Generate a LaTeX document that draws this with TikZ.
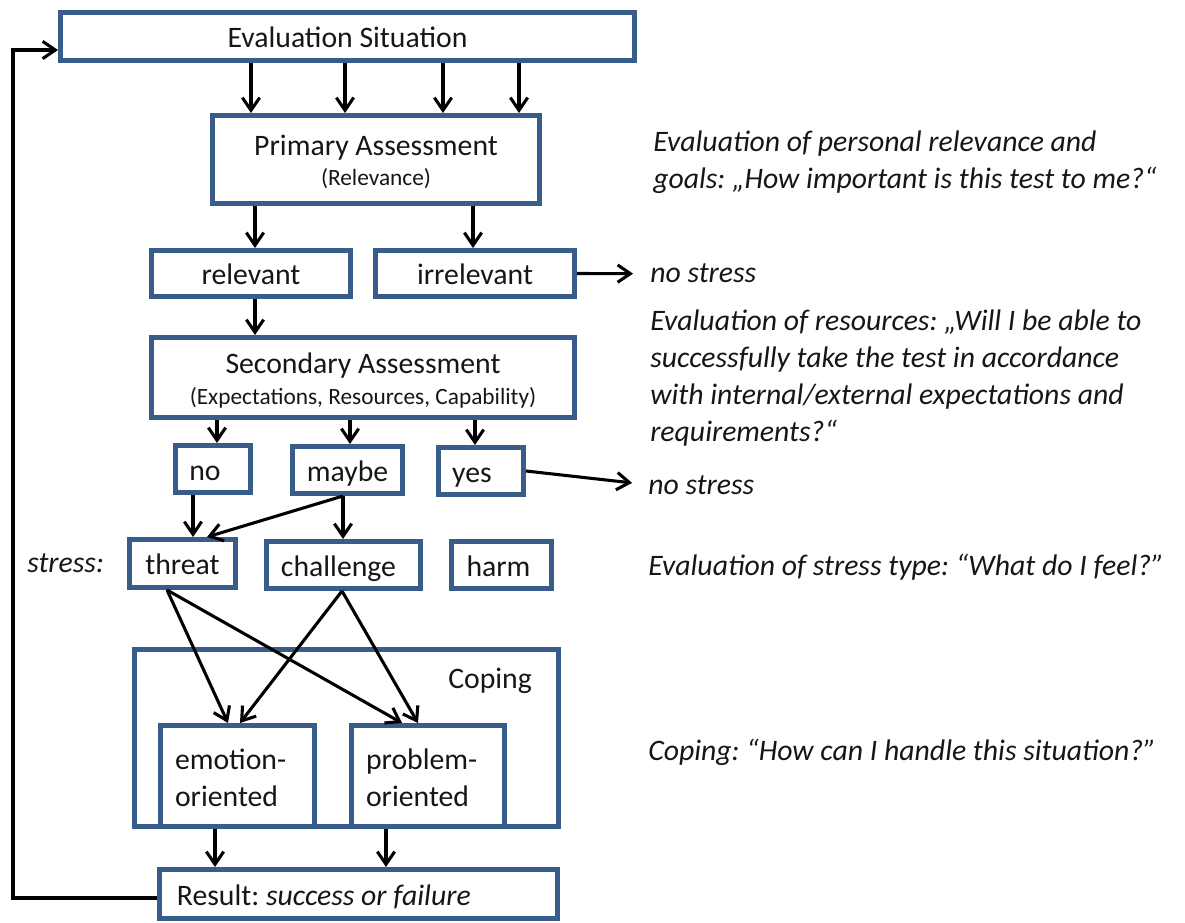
\documentclass[tikz,border=0pt]{standalone}
\usepackage{fontspec}
\setmainfont{Carlito}
\usetikzlibrary{arrows.meta}
\definecolor{boxblue}{RGB}{56,93,138}
\definecolor{ink}{RGB}{22,22,22}
\newcommand\fsmain{\fontsize{22.3pt}{27.75pt}\selectfont}
\newcommand\fssub{\fontsize{17.5pt}{21pt}\selectfont}
% trailing pad that pushes a label left inside its box
\newcommand\padr[1]{\hspace{#1}\null}
\frenchspacing

\begin{document}
\begin{tikzpicture}[x=0.75pt,y=-0.75pt,
  box/.style 2 args={draw=boxblue, line width=3.6pt, inner sep=0pt,
    minimum width=#1*0.75pt-3.6pt, minimum height=#2*0.75pt-3.6pt,
    text=ink, font=\fsmain},
  oneline/.style={text height=16.5pt, text depth=0pt},
  arr/.style={draw=black, line width=2.3pt,
    -{Straight Barb[length=9.5pt,width=13pt]}},
  note/.style={font=\fsmain\itshape, text=ink, inner sep=0pt, align=left},
]
\useasboundingbox (0,0) rectangle (1185,923);

% appraisal chain
\node[box={579}{53}, oneline] (eval) at (347.5,36.5) {Evaluation Situation};
\node[box={332}{93}, align=center, font=\fontsize{22.3pt}{22.5pt}\selectfont,
      text height=39.75pt, text depth=0pt] (prim) at (376,159.5)
      {Primary Assessment\\{\fssub (Relevance)}};
\node[box={204}{51}, oneline] (rel) at (251,273.5) {relevant};
\node[box={204}{51}, oneline] (irr) at (475,273.5) {irrelevant};
\node[box={428}{85}, align=center, font=\fontsize{22.3pt}{24pt}\selectfont,
      text height=41.25pt, text depth=0pt] (sec) at (363,377.5)
      {Secondary Assessment\\{\fssub (Expectations, Resources, Capability)}};
\node[box={80}{52}, oneline] (no) at (213,469) {no\padr{12pt}};
\node[box={115}{52}, oneline] (maybe) at (347.5,470) {maybe};
\node[box={90}{52}, oneline] (yes) at (481,471) {yes\padr{13.5pt}};

% stress types
\node[note, anchor=base west] (stresslbl) at (27,572) {stress:};
\node[box={111}{53}, oneline] (threat) at (182.5,563.5) {threat};
\node[box={159}{52}, oneline] (challenge) at (343.5,565) {challenge\padr{7.5pt}};
\node[box={105}{52}, oneline] (harm) at (501.5,565) {harm\padr{4.5pt}};

% coping
\node[box={429}{182}] (coping) at (346.5,738) {};
\node[anchor=base west, font=\fsmain, text=ink, inner sep=0pt] (copinglbl)
      at (448,688) {Coping};
\node[box={159}{106}, align=left, text width=93.75pt,
      text height=15pt, text depth=25.5pt] (emotion) at (237.5,776)
      {emotion-\\oriented};
\node[box={158}{106}, align=left, text width=93pt,
      text height=15pt, text depth=25.5pt] (problem) at (428,776)
      {problem-\\oriented};

% outcome (text kept to the left of the box)
\node[box={403}{54}, oneline] (result)
      at (358.5,894) {Result: \textit{success or failure}\padr{52pt}};

% explanations on the right (base = last line)
\node[note, anchor=base west] (n1) at (653,189)
  {Evaluation of personal relevance and\\goals: „How important is this test to me?“};
\node[note, anchor=base west] (ns1) at (650,283) {no stress};
\node[note, anchor=base west] (n2) at (650,441)
  {Evaluation of resources: „Will I be able to\\successfully take the test in accordance\\with internal/external expectations and\\requirements?“};
\node[note, anchor=base west] (ns2) at (648,494) {no stress};
\node[note, anchor=base west] (n3) at (648,575)
  {Evaluation of stress type: “What do I feel?”};
\node[note, anchor=base west] (n4) at (648,760)
  {Coping: “How can I handle this situation?”};

% connectors
\foreach \xx in {251,345,443,519}
  \draw[arr] (eval.south -| \xx,0) -- (prim.north -| \xx,0);
\draw[arr] (prim.south -| 255,0) -- (rel.north -| 255,0);
\draw[arr] (prim.south -| 473,0) -- (irr.north -| 473,0);
\draw[arr, shorten >=12.75pt] (irr.east) -- (ns1.west);
\draw[arr] (rel.south -| 255,0) -- (sec.north -| 255,0);
\draw[arr] (sec.south -| 217,0) -- (no.north -| 217,0);
\draw[arr] (sec.south -| 350,0) -- (maybe.north -| 350,0);
\draw[arr] (sec.south -| 475,0) -- (yes.north -| 475,0);
\draw[arr, shorten >=12pt] (yes.east) -- (ns2.west);
\draw[arr] (no.south -| 193,0) -- (threat.north -| 193,0);
\draw[arr] (maybe.south -| 343,0) -- (threat.north -| 207,0);
\draw[arr] (maybe.south -| 343,0) -- (challenge.north -| 343,0);
\draw[arr] (threat.south -| 167,0) -- (emotion.north -| 228,0);
\draw[arr] (threat.south -| 167,0) -- (problem.north -| 402,0);
\draw[arr] (challenge.south -| 342,0) -- (emotion.north -| 240,0);
\draw[arr] (challenge.south -| 342,0) -- (problem.north -| 418,0);
\draw[arr] (emotion.south -| 215,0) -- (result.north -| 215,0);
\draw[arr] (problem.south -| 386,0) -- (result.north -| 386,0);

% feedback loop
\coordinate (loop) at (13,50);
\draw[arr] (result.west |- 0,898) -| (loop) -- (eval.west |- loop);
\end{tikzpicture}
\end{document}
